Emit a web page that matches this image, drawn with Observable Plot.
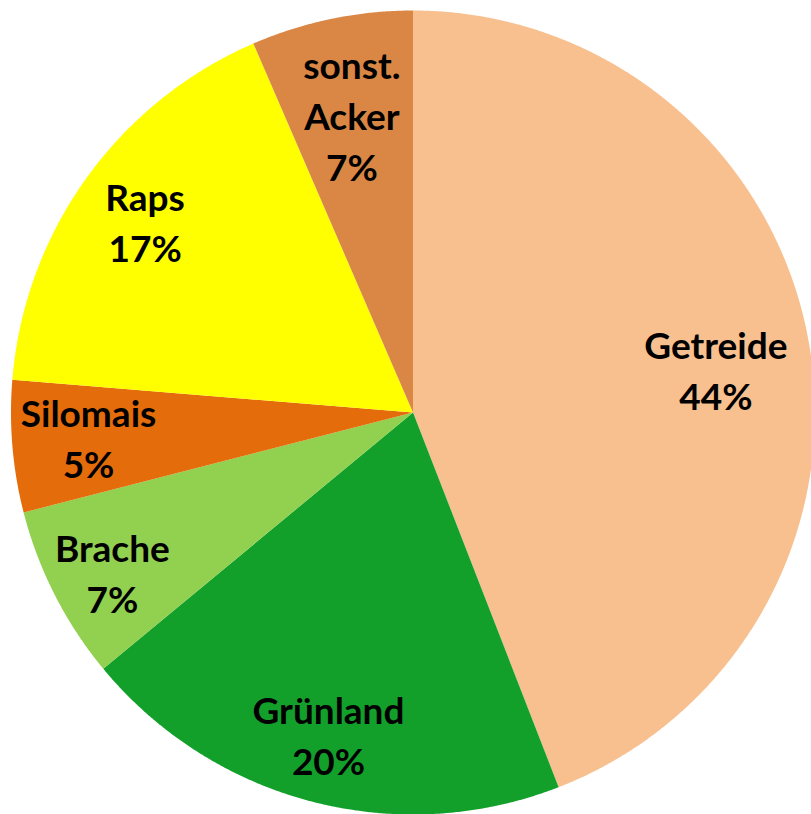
<!DOCTYPE html>
<html>
<head>
<meta charset="utf-8">
<script src="https://cdn.jsdelivr.net/npm/d3@7"></script>
<script src="https://cdn.jsdelivr.net/npm/@observablehq/plot@0.6"></script>
<style>
  html, body { margin: 0; padding: 0; background: #fff; }
  #chart svg { display: block; overflow: hidden; }
</style>
</head>
<body>
<div id="chart"></div>
<script>
// Data (clockwise from 12 o'clock)
const categories = ["Getreide", "Grünland", "Brache", "Silomais", "Raps", "sonst.\nAcker"];
const shares = [44.1, 19.9, 7.0, 5.3, 17.2, 6.5];
const percentLabels = ["44%", "20%", "7%", "5%", "17%", "7%"];
const colors = ["#F8BF8F", "#12A02B", "#92D050", "#E46C0A", "#FFFF00", "#DA8644"];
const labelRadius = [0.76, 0.835, 0.85, 0.81, 0.815, 0.75];
const labelAngleShift = [3.1, 0, -1.4, 0, -0.5, 0]; // degrees

const W = 811, H = 814;
const R = 402;

const total = d3.sum(shares);
let cum = 0;
const slices = shares.map((v, i) => {
  const a0 = cum / total * 2 * Math.PI;
  cum += v;
  const a1 = cum / total * 2 * Math.PI;
  return {name: categories[i], a0, a1, color: colors[i], i};
});

// polygon points for each slice (angle measured clockwise from top)
const poly = [];
for (const s of slices) {
  poly.push({name: s.name, color: s.color, x: 0, y: 0});
  const n = Math.max(2, Math.ceil((s.a1 - s.a0) / (Math.PI / 720)));
  for (let k = 0; k <= n; k++) {
    const a = s.a0 + (s.a1 - s.a0) * k / n;
    poly.push({name: s.name, color: s.color, x: R * Math.sin(a), y: R * Math.cos(a)});
  }
}

const labels = slices.map(s => {
  const a = (s.a0 + s.a1) / 2 + labelAngleShift[s.i] * Math.PI / 180;
  const r = R * labelRadius[s.i];
  return {text: categories[s.i] + "\n" + percentLabels[s.i], x: r * Math.sin(a), y: r * Math.cos(a)};
});

const chart = Plot.plot({
  width: W,
  height: H,
  margin: 0,
  x: {domain: [-412.5, W - 412.5], axis: null},
  y: {domain: [-(H - 412), 412], axis: null},
  color: {type: "identity"},
  marks: [
    Plot.line(poly, {x: "x", y: "y", z: "name", fill: "color", stroke: null, curve: "linear-closed"}),
    Plot.text(labels, {
      x: "x", y: "y", text: "text",
      fontFamily: "Lato, 'Open Sans', sans-serif",
      fontWeight: "bold",
      fontSize: 37,
      lineHeight: 51 / 37,
      lineAnchor: "middle",
      textAnchor: "middle",
      dy: -4,
      fill: "#000"
    })
  ]
});
document.getElementById("chart").appendChild(chart);
</script>
</body>
</html>
